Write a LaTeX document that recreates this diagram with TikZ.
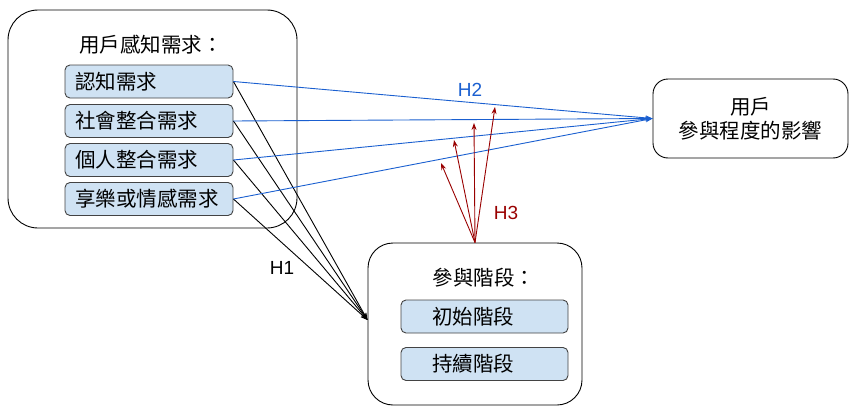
\documentclass[tikz,border=0pt]{standalone}
\usepackage{fontspec}
\setmainfont{Liberation Sans}
\newfontfamily\cjk{Noto Sans CJK TC}
\usetikzlibrary{arrows.meta}
\definecolor{hblue}{HTML}{1A5FD0}
\definecolor{hred}{HTML}{990000}
\definecolor{boxfill}{HTML}{CFE2F3}
\definecolor{boxline}{HTML}{434343}
\tikzset{
  groupbox/.style={draw=black, line width=0.9pt, rounded corners=#1, inner sep=0pt},
  needbox/.style={draw=boxline, fill=boxfill, line width=0.9pt, rounded corners=5pt,
    minimum height=33pt, text width=148pt, inner xsep=10pt, align=left,
    font=\cjk\fontsize{20.5}{22}\selectfont},
  stagebox/.style={needbox, text width=105pt, inner xsep=31pt},
  cjktitle/.style={font=\cjk\fontsize{20.5}{24}\selectfont, align=center},
  hlabel/.style={font=\fontsize{19}{22}\selectfont},
  blinkarrow/.style={hblue, line width=0.9pt, -{Stealth[length=7pt,width=5pt]}},
  klinkarrow/.style={black, line width=0.9pt, -{Stealth[length=7pt,width=5pt]}},
  rlinkarrow/.style={hred, line width=0.9pt, -{Stealth[length=7pt,width=5pt]}}
}
\begin{document}
\begin{tikzpicture}[x=1pt, y=-1pt]
			%%%%% START %%%%%
			\useasboundingbox (0,0) rectangle (865,415);
			
			% perceived needs
			\node[groupbox=30pt, minimum width=289pt, minimum height=218pt] (needs) at (152.5,119) {};
			\node[cjktitle] (needstitle) at (151,45) {用戶感知需求：};
			\node[needbox] (cog) at (149,81.5) {認知需求};
			\node[needbox] (soc) at (149,121) {社會整合需求};
			\node[needbox] (per) at (149,160) {個人整合需求};
			\node[needbox] (hed) at (149,199) {享樂或情感需求};
			
			% outcome
			\node[groupbox=15pt, minimum width=195pt, minimum height=79pt, cjktitle] (user) at (750.5,118.5) {用戶\\參與程度的影響};
			
			% stages
			\node[groupbox=25pt, minimum width=214pt, minimum height=162pt] (stage) at (475,324) {};
			\node[cjktitle] (stagetitle) at (484,278) {參與階段：};
			\node[stagebox] (init) at (484.5,316.5) {初始階段};
			\node[stagebox] (cont) at (484.5,364) {持續階段};
			
			% H3 arrow ends
			\coordinate (h3a) at (441,163);
			\coordinate (h3b) at (454,140);
			\coordinate (h3c) at (474,123);
			\coordinate (h3d) at (495,107);
			
			% H1
			\foreach \n in {cog,soc,per,hed}
			  \draw[klinkarrow] (\n.east) -- ([yshift=4pt]stage.west);
			% H2
			\foreach \n in {cog,soc,per,hed}
			  \draw[blinkarrow] (\n.east) -- (user.west);
			% H3
			\foreach \c in {h3a,h3b,h3c,h3d}
			  \draw[rlinkarrow] (stage.north) -- (\c);
			
			\node[hlabel] (h1) at (282,268) {H1};
			\node[hlabel, text=hblue] (h2) at (470,90) {H2};
			\node[hlabel, text=hred] (h3) at (506,213) {H3};
			%%%%% END %%%%%
\end{tikzpicture}
\end{document}
